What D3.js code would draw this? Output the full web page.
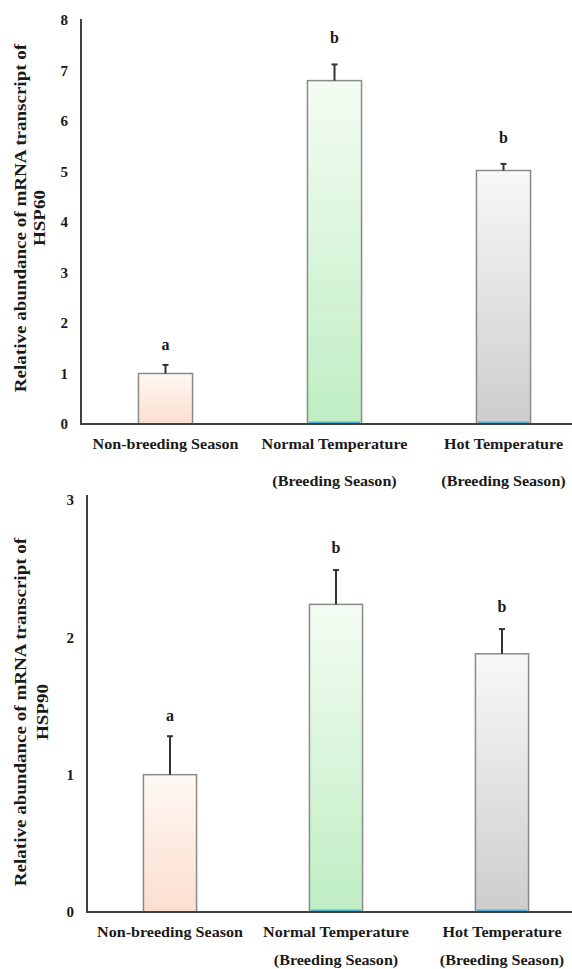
<!DOCTYPE html>
<html>
<head>
<meta charset="utf-8">
<script src="https://cdn.jsdelivr.net/npm/d3@7"></script>
<style>
  html, body { margin: 0; padding: 0; background: #fff; }
  svg { display: block; }
  text { font-family: "Liberation Serif", "Times New Roman", serif; font-weight: bold; fill: #1a1a1a; }
</style>
</head>
<body>
<svg id="chart" width="572" height="969"></svg>
<script>
// ---- data ----
const categories = ["Non-breeding Season", "Normal Temperature", "Hot Temperature"];
const categorySub = ["", "(Breeding Season)", "(Breeding Season)"];
const hsp60Values = [1.0, 6.8, 5.02];
const hsp60Errors = [0.17, 0.32, 0.13];
const hsp60Letters = ["a", "b", "b"];
const hsp60Ticks = [0, 1, 2, 3, 4, 5, 6, 7, 8];
const hsp90Values = [1.0, 2.24, 1.88];
const hsp90Errors = [0.28, 0.25, 0.18];
const hsp90Letters = ["a", "b", "b"];
const hsp90Ticks = [0, 1, 2, 3];
const gradients = [
  { id: "g0", top: "#fff8f4", bottom: "#fbdfcf", edge: null },
  { id: "g1", top: "#f4fcf3", bottom: "#bfeec3", edge: "#3aa6d6" },
  { id: "g2", top: "#f8f8f8", bottom: "#cdcdcd", edge: "#3aa6d6" }
];

const svg = d3.select("#chart");
const defs = svg.append("defs");
gradients.forEach(g => {
  const lg = defs.append("linearGradient").attr("id", g.id)
    .attr("x1", 0).attr("y1", 0).attr("x2", 0).attr("y2", 1);
  lg.append("stop").attr("offset", "0%").attr("stop-color", g.top);
  lg.append("stop").attr("offset", "100%").attr("stop-color", g.bottom);
});

function drawPanel(cfg) {
  const g = svg.append("g");
  const x = d3.scaleBand().domain(categories)
    .range([cfg.left, cfg.left + cfg.step * 3])
    .paddingInner(0.68).paddingOuter(0.34);
  const y = d3.scaleLinear().domain([0, cfg.max]).range([cfg.bottom, cfg.top]);

  // bars
  const bars = g.selectAll("g.bar").data(categories).join("g").attr("class", "bar");
  bars.append("rect")
    .attr("x", d => x(d))
    .attr("y", (d, i) => y(cfg.values[i]))
    .attr("width", x.bandwidth())
    .attr("height", (d, i) => y(0) - y(cfg.values[i]))
    .attr("fill", (d, i) => `url(#${gradients[i].id})`)
    .attr("stroke", "#8a8a8a").attr("stroke-width", 1.5);
  bars.filter((d, i) => gradients[i].edge)
    .append("line")
    .attr("x1", d => x(d) + 1.5).attr("x2", d => x(d) + x.bandwidth() - 1.5)
    .attr("y1", y(0) - 1.5).attr("y2", y(0) - 1.5)
    .attr("stroke", d => gradients[categories.indexOf(d)].edge)
    .attr("stroke-width", 2).attr("opacity", 0.8);

  // error bars
  bars.append("line")
    .attr("x1", d => x(d) + x.bandwidth() / 2).attr("x2", d => x(d) + x.bandwidth() / 2)
    .attr("y1", (d, i) => y(cfg.values[i]))
    .attr("y2", (d, i) => y(cfg.values[i] + cfg.errors[i]))
    .attr("stroke", "#333").attr("stroke-width", 2);
  bars.append("line")
    .attr("x1", d => x(d) + x.bandwidth() / 2 - 3).attr("x2", d => x(d) + x.bandwidth() / 2 + 3)
    .attr("y1", (d, i) => y(cfg.values[i] + cfg.errors[i]))
    .attr("y2", (d, i) => y(cfg.values[i] + cfg.errors[i]))
    .attr("stroke", "#333").attr("stroke-width", 2);

  // significance letters
  bars.append("text")
    .attr("x", d => x(d) + x.bandwidth() / 2)
    .attr("y", (d, i) => y(cfg.values[i] + cfg.errors[i]) - (cfg.letters[i] === "a" ? cfg.letterOffA : cfg.letterOffB))
    .attr("text-anchor", "middle").attr("font-size", 16)
    .text((d, i) => cfg.letters[i]);

  // y axis
  const yAxis = d3.axisLeft(y).tickValues(cfg.ticks).tickSize(0).tickPadding(13).tickFormat(d3.format("d"));
  const ya = g.append("g").attr("transform", `translate(${cfg.left},0)`).call(yAxis);
  ya.attr("font-family", null);
  ya.select(".domain").remove();
  ya.selectAll("text").attr("font-size", 15).style("fill", "#1a1a1a");
  g.append("line").attr("x1", cfg.left).attr("x2", cfg.left)
    .attr("y1", cfg.axisTop).attr("y2", cfg.bottom + 1)
    .attr("stroke", "#404040").attr("stroke-width", 2);
  // x axis line
  g.append("line").attr("x1", cfg.left - 1).attr("x2", 572)
    .attr("y1", cfg.bottom).attr("y2", cfg.bottom)
    .attr("stroke", "#404040").attr("stroke-width", 2);

  // x labels
  const lab = g.selectAll("g.xl").data(categories).join("g").attr("class", "xl")
    .attr("transform", d => `translate(${x(d) + x.bandwidth() / 2},0) scale(1.15,1)`);
  lab.append("text").attr("y", cfg.bottom + cfg.lab1).attr("text-anchor", "middle")
    .attr("font-size", 14).text(d => d);
  lab.append("text").attr("y", cfg.bottom + cfg.lab2).attr("text-anchor", "middle")
    .attr("font-size", 14).text((d, i) => categorySub[i]);

  // y title
  const tg = g.append("g").attr("transform", `translate(0,${cfg.titleY}) rotate(-90) scale(1.19,1)`);
  tg.append("text").attr("x", 0).attr("y", cfg.titleX1).attr("text-anchor", "middle")
    .attr("font-size", 16).text("Relative abundance of mRNA transcript of");
  tg.append("text").attr("x", 0).attr("y", cfg.titleX2).attr("text-anchor", "middle")
    .attr("font-size", 16).text(cfg.gene);
}

drawPanel({
  values: hsp60Values, errors: hsp60Errors, letters: hsp60Letters, ticks: hsp60Ticks,
  max: 8, left: 81, step: 169, top: 20, bottom: 424, axisTop: 19,
  letterOffA: 15, letterOffB: 21, lab1: 25, lab2: 62,
  titleY: 218, titleX1: 26, titleX2: 45, gene: "HSP60"
});
drawPanel({
  values: hsp90Values, errors: hsp90Errors, letters: hsp90Letters, ticks: hsp90Ticks,
  max: 3, left: 87, step: 166, top: 500, bottom: 912, axisTop: 495,
  letterOffA: 15, letterOffB: 17, lab1: 25, lab2: 53,
  titleY: 712, titleX1: 26, titleX2: 48, gene: "HSP90"
});
</script>
</body>
</html>
